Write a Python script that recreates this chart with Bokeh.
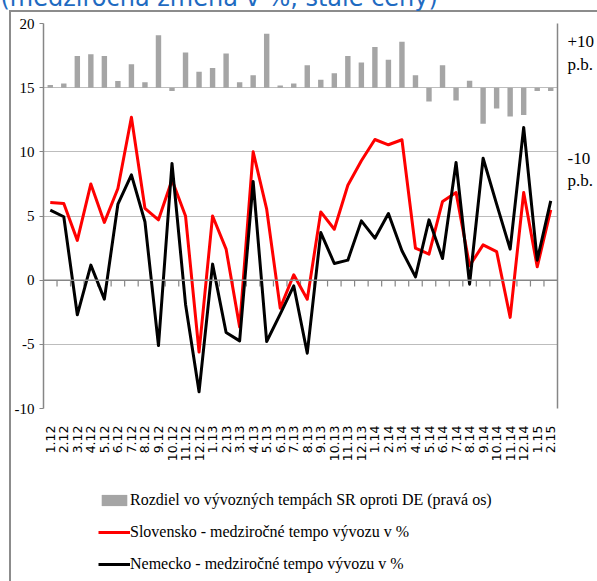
import numpy as np
from bokeh.plotting import figure
from bokeh.layouts import column
from bokeh.models import (Range1d, LinearAxis, FixedTicker, Span, Legend, LegendItem)
from bokeh.embed import file_html
from bokeh.resources import INLINE

months = ["1.12", "2.12", "3.12", "4.12", "5.12", "6.12", "7.12", "8.12", "9.12", "10.12", "11.12", "12.12",
          "1.13", "2.13", "3.13", "4.13", "5.13", "6.13", "7.13", "8.13", "9.13", "10.13", "11.13", "12.13",
          "1.14", "2.14", "3.14", "4.14", "5.14", "6.14", "7.14", "8.14", "9.14", "10.14", "11.14", "12.14",
          "1.15", "2.15"]

slovensko = [6.05, 5.97, 3.1, 7.5, 4.5, 7.14, 12.7, 5.6, 4.7, 7.8, 5.0, -5.6,
             5.0, 2.42, -3.64, 10.0, 5.53, -2.18, 0.42, -1.48, 5.32, 3.97, 7.4, 9.3,
             10.96, 10.55, 10.94, 2.49, 2.03, 6.13, 6.83, 1.12, 2.75, 2.23, -2.9, 6.83,
             1.04, 5.48]

nemecko = [5.45, 4.94, -2.7, 1.17, -1.48, 5.92, 8.2, 4.55, -5.1, 9.1, -1.87, -8.7,
           1.25, -4.08, -4.73, 7.69, -4.78, -2.65, -0.44, -5.69, 3.71, 1.30, 1.56, 4.62,
           3.27, 5.19, 2.29, 0.26, 4.7, 1.69, 9.17, -0.31, 9.5, 5.92, 2.42, 11.9,
           1.56, 6.18]

rozdiel = [0.5, 0.8, 5.9, 6.25, 5.9, 1.25, 4.4, 1.0, 9.8, -0.6, 6.6, 3.0,
           3.7, 6.4, 1.0, 2.3, 10.1, 0.4, 0.8, 4.2, 1.5, 2.7, 5.9, 4.7,
           7.6, 5.2, 8.6, 2.3, -2.6, 4.2, -2.4, 1.3, -6.75, -3.9, -5.4, -5.1,
           -0.6, -0.6]

left_ticks = [-10, -5, 0, 5, 10, 15, 20]
left_labels = {-10: "-10", -5: "-5", 0: "0", 5: "5", 10: "10", 15: "15", 20: "20"}
# right-hand text boxes "+10 p.b." / "-10 p.b." (anchored where they sit in the picture)
right_ticks = [6.5, -15.3]
right_labels = {6.5: "+10\np.b.", -15.3: "-10\np.b."}

title_text = "(medziročná zmena v %, stále ceny)"
legend_labels = ["Rozdiel vo vývozných tempách SR oproti DE (pravá os)",
                 "Slovensko - medziročné tempo vývozu v %",
                 "Nemecko - medziročné tempo vývozu v %"]

GRAY = "#868686"
BORDER = "#8C8C8C"
BAR = "#A5A5A5"
RED = "#FF0000"
BLACK = "#000000"
n = len(months)
xs = np.arange(n) + 0.5

SHIFT = 30          # canvas rows hidden above the window (title is cut off there)
MAIN_H = 480        # visible part of the main chart
LEG_H = 581 - MAIN_H

vline = f"linear-gradient({BORDER}, {BORDER})"

p = figure(width=597, height=MAIN_H + SHIFT, x_range=Range1d(0, n), y_range=Range1d(-10, 20),
           output_backend="svg", toolbar_location=None,
           min_border_left=43, min_border_right=36, min_border_top=23 + SHIFT,
           min_border_bottom=MAIN_H - 408)
p.styles = {
    "background-image": f"{vline}, {vline}",
    "background-size": "2px 100%, 100% 2px",
    "background-position": f"9px {10 + SHIFT}px, 9px {10 + SHIFT}px",
    "background-repeat": "no-repeat",
}
p.border_fill_color = None
p.outline_line_color = None
p.background_fill_color = "white"
p.extra_y_ranges = {"right": Range1d(-60, 12)}

# title
p.title.text = title_text
p.title.align = "left"
p.title.vertical_align = "middle"
p.title.offset = -43
p.title.standoff = 22
p.title.text_font = "DejaVu Sans"
p.title.text_font_size = "24px"
p.title.text_font_style = "normal"
p.title.text_color = "#1F6BC1"

# x axis (labels only)
xa = p.xaxis[0]
xa.ticker = FixedTicker(ticks=xs.tolist())
xa.major_label_overrides = {float(x): m for x, m in zip(xs, months)}
xa.major_label_orientation = np.pi / 2
xa.axis_line_color = None
xa.major_tick_line_color = None
xa.minor_tick_line_color = None
xa.major_label_standoff = 11
xa.major_label_text_font = "DejaVu Sans"
xa.major_label_text_font_size = "12.5px"
xa.major_label_text_color = "black"

# left axis
ya = p.yaxis[0]
ya.ticker = FixedTicker(ticks=left_ticks)
ya.major_label_overrides = left_labels
ya.axis_line_color = GRAY
ya.axis_line_width = 1.5
ya.major_tick_line_color = GRAY
ya.major_tick_out = 4
ya.major_tick_in = 0
ya.minor_tick_line_color = None
ya.major_label_standoff = 5
ya.major_label_text_font = "Liberation Serif"
ya.major_label_text_font_size = "15px"
ya.major_label_text_color = "black"

# right axis (difference, p.b.)
ra = LinearAxis(y_range_name="right", ticker=FixedTicker(ticks=right_ticks))
ra.major_label_overrides = right_labels
ra.axis_line_color = GRAY
ra.axis_line_width = 1.5
ra.major_tick_line_color = None
ra.minor_tick_line_color = None
ra.major_label_standoff = 4
ra.major_label_text_align = "left"
ra.major_label_text_font = "Liberation Serif"
ra.major_label_text_font_size = "17px"
ra.major_label_text_color = "black"
p.add_layout(ra, "right")

p.xgrid.visible = False
p.ygrid.ticker = FixedTicker(ticks=left_ticks)
p.ygrid.grid_line_color = "#7a7a7a"
p.ygrid.grid_line_dash = "1 1"
p.ygrid.grid_line_width = 1

p.vbar(x=xs, top=rozdiel, bottom=0, width=0.4, y_range_name="right",
       fill_color=BAR, line_color=None)

p.add_layout(Span(location=0, dimension="width", line_color=GRAY, line_width=1.5))
bounds = np.arange(1, n)
p.segment(x0=bounds, y0=0, x1=bounds, y1=-0.5, line_color=GRAY, line_width=1.2)

p.line(xs, slovensko, line_color=RED, line_width=3, line_join="round")
p.line(xs, nemecko, line_color=BLACK, line_width=3, line_join="round")

# legend strip below the chart (its renderers hold no visible data)
q = figure(width=597, height=LEG_H, x_range=Range1d(0, 597), y_range=Range1d(0, LEG_H),
           output_backend="svg", toolbar_location=None, x_axis_type=None, y_axis_type=None,
           min_border=0)
q.styles = {
    "background-image": vline,
    "background-size": "2px 100%",
    "background-position": "9px 0px",
    "background-repeat": "no-repeat",
}
q.border_fill_color = None
q.background_fill_color = None
q.outline_line_color = None
q.grid.visible = False
nan = np.array([np.nan])
r_bar = q.vbar(x=nan, top=nan, width=1, fill_color=BAR, line_color=None)
r_sk = q.line(x=nan, y=nan, line_color=RED, line_width=3)
r_de = q.line(x=nan, y=nan, line_color=BLACK, line_width=3)

legend = Legend(items=[
    LegendItem(label=legend_labels[0], renderers=[r_bar]),
    LegendItem(label=legend_labels[1], renderers=[r_sk]),
    LegendItem(label=legend_labels[2], renderers=[r_de]),
], location=(55, 1), orientation="vertical")
legend.background_fill_alpha = 0
legend.border_line_color = None
legend.padding = 0
legend.margin = 0
legend.spacing = 0
legend.glyph_width = 32
legend.glyph_height = 14
legend.label_height = 32
legend.label_standoff = 0
legend.label_text_font = "Liberation Serif"
legend.label_text_font_size = "16px"
legend.label_text_color = "black"
q.add_layout(legend)

layout = column(p, q, spacing=0)
layout.styles = {"margin-top": f"-{SHIFT}px"}

open("out.html", "w").write(file_html(layout, INLINE))
